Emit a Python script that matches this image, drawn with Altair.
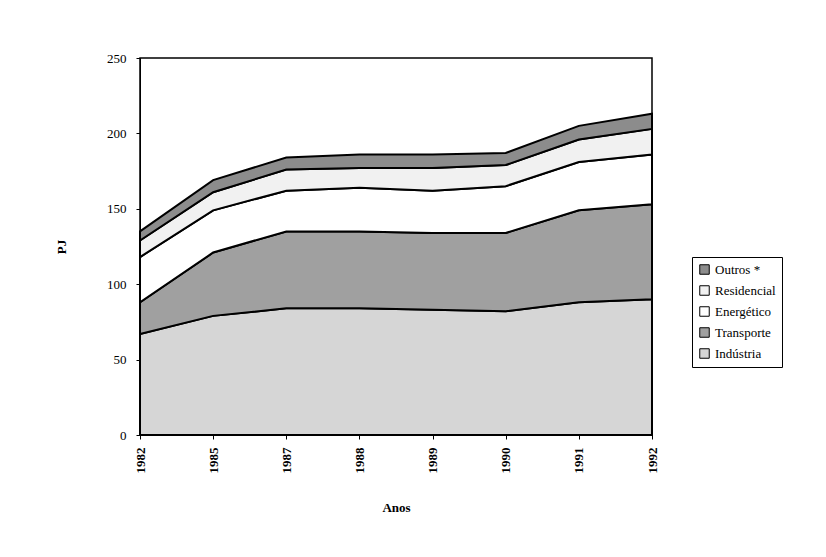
import altair as alt
import pandas as pd

anos = ["1982", "1985", "1987", "1988", "1989", "1990", "1991", "1992"]
industria = [67, 79, 84, 84, 83, 82, 88, 90]
transporte = [21, 42, 51, 51, 51, 52, 61, 63]
energetico = [30, 28, 27, 29, 28, 31, 32, 33]
residencial = [11, 12, 14, 13, 15, 14, 15, 17]
outros = [6, 8, 8, 9, 9, 8, 9, 10]

series = ["Indústria", "Transporte", "Energético", "Residencial", "Outros *"]
values = [industria, transporte, energetico, residencial, outros]
colors = ["#d6d6d6", "#a0a0a0", "#ffffff", "#f1f1f1", "#8c8c8c"]

rows = []
for i, (name, vals) in enumerate(zip(series, values)):
    for a, v in zip(anos, vals):
        rows.append({"Ano": a, "Setor": name, "PJ": v, "ordem": i})
df = pd.DataFrame(rows)

font = "Liberation Serif"

chart = alt.Chart(df).mark_area(stroke="black", strokeWidth=2, interpolate="linear").encode(
    x=alt.X("Ano:O", sort=anos, scale=alt.Scale(padding=0),
            axis=alt.Axis(title="Anos", labelAngle=270, labelAlign="right", labelBaseline="middle",
                          labelFont=font, labelFontSize=13, labelFontWeight="bold", labelPadding=8,
                          titleFont=font, titleFontSize=13,
                          titleFontWeight="bold", titlePadding=28, tickColor="black",
                          domainColor="black", labelColor="black", titleColor="black", tickSize=4)),
    y=alt.Y("PJ:Q", stack="zero", scale=alt.Scale(domain=[0, 250], nice=False),
            axis=alt.Axis(title="PJ", values=[0, 50, 100, 150, 200, 250], grid=False,
                          labelFont=font, labelFontSize=13, labelPadding=10,
                          titleFont=font, titleFontSize=13,
                          titleFontWeight="bold", titlePadding=38, tickColor="black",
                          domainColor="black", labelColor="black", titleColor="black", tickSize=4)),
    color=alt.Color("Setor:N", scale=alt.Scale(domain=series[::-1], range=colors[::-1]),
                    legend=alt.Legend(title=None, orient="none", legendX=552, legendY=199,
                                      symbolType="square", symbolStrokeColor="black",
                                      symbolStrokeWidth=1, symbolSize=90,
                                      labelFont=font, labelFontSize=13, labelColor="black",
                                      strokeColor="black", padding=6, rowPadding=6,
                                      fillColor="white")),
    order=alt.Order("ordem:Q", sort="ascending"),
).properties(
    width=512, height=377,
    autosize=alt.AutoSizeParams(type="none"),
    padding={"left": 132, "top": 50, "right": 160, "bottom": 110},
).configure_view(stroke="black", strokeWidth=1.5)

chart.save("out.html", embed_options={"renderer": "svg", "actions": False})
